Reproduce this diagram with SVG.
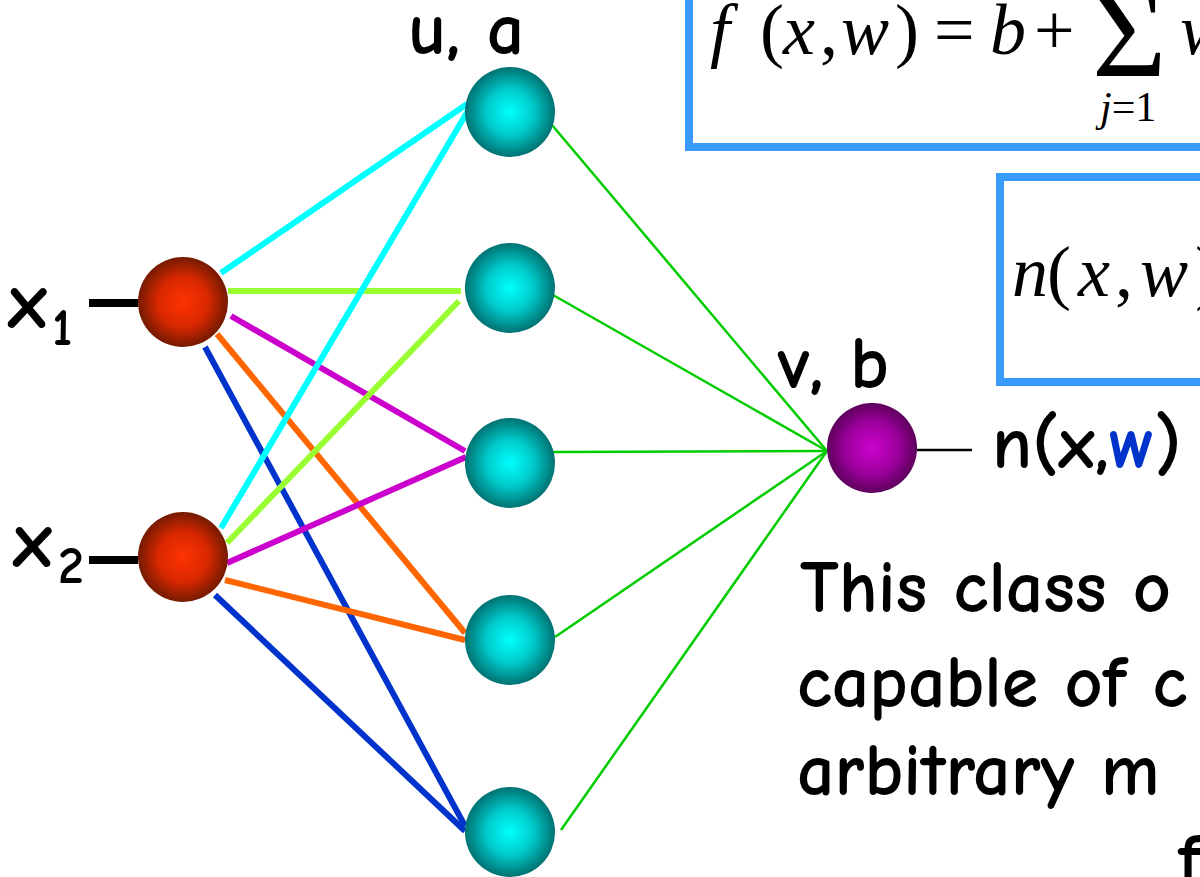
<svg xmlns="http://www.w3.org/2000/svg" width="1200" height="877" viewBox="0 0 1200 877">
<defs>
<radialGradient id="gIn" cx="50%" cy="50%" r="50%">
<stop offset="0" stop-color="#FF3300"/><stop offset="0.55" stop-color="#D92800"/><stop offset="1" stop-color="#741A00"/>
</radialGradient>
<radialGradient id="gHid" cx="50%" cy="50%" r="50%">
<stop offset="0" stop-color="#00FFFF"/><stop offset="0.5" stop-color="#00CCCC"/><stop offset="1" stop-color="#007272"/>
</radialGradient>
<radialGradient id="gOut" cx="50%" cy="50%" r="50%">
<stop offset="0" stop-color="#CC00CC"/><stop offset="0.55" stop-color="#A000A0"/><stop offset="1" stop-color="#5E005E"/>
</radialGradient>
</defs>
<style>
.hand{font-family:"Comic Sans MS","Comic Neue","DejaVu Sans",sans-serif;fill:#000;font-weight:bold}
.math{font-family:"Liberation Serif","Times New Roman",serif;fill:#000}
.it{font-style:italic}
.box{fill:none;stroke:#3A9BFF;stroke-width:8}
.thick{stroke-width:6;fill:none}
.thin{stroke:#00CC00;stroke-width:2.5;fill:none}
.cy{stroke:#00FFFF}.yg{stroke:#99FF33}.mg{stroke:#CC00CC}.or{stroke:#FF6600}.bl{stroke:#0033CC}
</style>
<rect width="1200" height="877" fill="#fff"/>

<g id="formula-box-1">
<rect class="box" x="689" y="-20" width="620" height="167"/>
<text class="math it" x="710" y="54" font-size="72">f</text>
<text class="math" x="760" y="54" font-size="72">(</text>
<text class="math it" x="783" y="54" font-size="72">x</text>
<text class="math" x="820" y="54" font-size="72">,</text>
<text class="math it" x="841" y="54" font-size="72">w</text>
<text class="math" x="895" y="54" font-size="72">)</text>
<text class="math" x="934" y="54" font-size="72">=</text>
<text class="math it" x="990" y="54" font-size="72">b</text>
<text class="math" x="1034" y="54" font-size="72">+</text>
<text class="math" x="1092" y="76" font-size="128">Σ</text>
<text class="math" x="1100" y="121" font-size="42"><tspan class="it">j</tspan>=1</text>
<text class="math it" x="1180" y="54" font-size="72">w</text>
</g>

<g id="formula-box-2">
<rect class="box" x="1000" y="177" width="300" height="205"/>
<text class="math it" x="1012" y="296" font-size="72">n</text>
<text class="math" x="1047" y="296" font-size="72">(</text>
<text class="math it" x="1078" y="296" font-size="72">x</text>
<text class="math" x="1115" y="296" font-size="72">,</text>
<text class="math it" x="1140" y="296" font-size="72">w</text>
<text class="math" x="1195" y="296" font-size="72">)</text>
</g>

<g id="connectors">
<line class="thick cy" x1="221" y1="273" x2="467" y2="104"/>
<line class="thick yg" x1="228" y1="291" x2="461" y2="291"/>
<line class="thick mg" x1="231" y1="316" x2="465" y2="451"/>
<line class="thick or" x1="217" y1="334" x2="465" y2="633"/>
<line class="thick bl" x1="205" y1="347" x2="465" y2="826"/>
<line class="thick cy" x1="221" y1="528" x2="472" y2="104"/>
<line class="thick yg" x1="227" y1="543" x2="459" y2="301"/>
<line class="thick mg" x1="227" y1="563" x2="466" y2="457"/>
<line class="thick or" x1="225" y1="580" x2="465" y2="640"/>
<line class="thick bl" x1="215" y1="595" x2="465" y2="831"/>
<line class="thin" x1="552" y1="125" x2="827" y2="451"/>
<line class="thin" x1="553" y1="295" x2="827" y2="451"/>
<line class="thin" x1="553" y1="452" x2="827" y2="451"/>
<line class="thin" x1="555" y1="637" x2="827" y2="451"/>
<line class="thin" x1="561" y1="830" x2="827" y2="451"/>
<line x1="917" y1="450" x2="972" y2="450" stroke="#000" stroke-width="2.5"/>
<line x1="89" y1="303" x2="138" y2="303" stroke="#000" stroke-width="8"/>
<line x1="89" y1="560" x2="138" y2="560" stroke="#000" stroke-width="8"/>
</g>

<g id="input-x1">
<circle cx="183" cy="302" r="45" fill="url(#gIn)"/>
<text class="hand" x="8" y="328" font-size="80">x</text>
<text class="hand" x="52" y="345" font-size="52">1</text>
</g>
<g id="input-x2">
<circle cx="183" cy="557" r="45" fill="url(#gIn)"/>
<text class="hand" x="13" y="567" font-size="80">x</text>
<text class="hand" x="58" y="583" font-size="52">2</text>
</g>

<g id="hidden-1"><circle cx="510" cy="112" r="45" fill="url(#gHid)"/></g>
<g id="hidden-2"><circle cx="510" cy="288" r="45" fill="url(#gHid)"/></g>
<g id="hidden-3"><circle cx="510" cy="463" r="45" fill="url(#gHid)"/></g>
<g id="hidden-4"><circle cx="510" cy="640" r="45" fill="url(#gHid)"/></g>
<g id="hidden-5"><circle cx="510" cy="832" r="45" fill="url(#gHid)"/></g>
<g id="label-ua"><text class="hand" x="408" y="54" font-size="74">u, a</text></g>

<g id="output">
<circle cx="872" cy="448" r="45" fill="url(#gOut)"/>
<text class="hand" x="778" y="388" font-size="74">v, b</text>
</g>

<g id="output-label">
<text class="hand" x="992" y="468" font-size="74">n(<tspan font-weight="900">x</tspan>,<tspan font-weight="900" fill="#0033CC">w</tspan>)</text>
</g>

<g id="caption">
<text class="hand" x="800" y="612" font-size="74">This class o</text>
<text class="hand" x="797" y="707" font-size="74">capable of c</text>
<text class="hand" x="797" y="795" font-size="74">arbitrary m</text>
<text class="hand" x="1178" y="885" font-size="74">f</text>
</g>
</svg>
